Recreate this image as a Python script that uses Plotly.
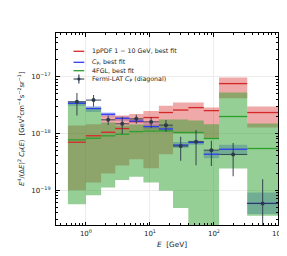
import numpy as np
import plotly.graph_objects as go

# ---------------- data (energies in GeV, values in units of 1e-18) -------------
edges = [0.524, 1.0, 1.73, 2.87, 4.75, 7.91, 13.8, 22.9, 39.8, 69.2, 120.0, 331.0, 1000.0]
UNIT = 1e-18

red_mid = [0.70, 0.91, 1.05, 1.22, 1.62, 1.91, 2.34, 2.59, 2.86, 2.53, 7.59, 2.34]
red_hi = [1.38, 1.45, 2.07, 2.07, 2.20, 2.50, 3.07, 3.51, 3.51, 2.86, 9.68, 2.98]
red_lo = [0.0996, 0.136, 0.196, 0.272, 0.351, 0.243, 0.430, 0.995, 0.995, 0.813, 4.18, 1.27]

blue_mid = [3.41, 2.75, 2.18, 1.85, 1.65, 1.32, 1.20, 0.624, 0.691, 0.430, 0.526, 0.0581]
blue_hi = [3.76, 3.02, 2.34, 1.99, 1.78, 1.50, 1.32, 0.705, 0.74, 0.493, 0.630, 0.0908]
blue_lo = [3.07, 2.38, 1.99, 1.67, 1.56, 1.17, 1.08, 0.553, 0.630, 0.365, 0.430, 0.0376]

green_mid = [0.771, 0.823, 0.908, 0.968, 1.08, 1.10, 1.11, 1.04, 1.04, 0.813, 1.99, 0.542]
green_hi = [3.58, 2.86, 1.56, 1.38, 1.44, 1.38, 1.76, 1.76, 1.69, 1.45, 5.26, 1.50]
green_lo = [0.0564, 0.0813, 0.111, 0.151, 0.172, 0.136, 0.0973, 0.048, 0.001, 0.001, 0.240, 0.0352]

cp_val = [3.62, 3.88, 1.74, 1.48, 1.81, 1.60, 1.40, 0.60, 0.714, 0.506, 0.425, 0.058]
cp_err = [1.55, 0.90, 0.33, 0.50, 0.32, 0.35, 0.33, 0.27, 0.44, 0.24, 0.25, 0.098]

legend_labels = ["1pPDF 1 − 10 GeV, best fit", "<i>C</i><sub>P</sub>, best fit",
                 "4FGL, best fit", "Fermi-LAT <i>C</i><sub>P</sub> (diagonal)"]

x_tick_vals = [1, 10, 100, 1000]
x_tick_text = ["10<sup>0</sup>", "10<sup>1</sup>", "10<sup>2</sup>", "10<sup>3</sup>"]
y_tick_vals = [1e-19, 1e-18, 1e-17]
y_tick_text = ["10<sup>−19</sup>", "10<sup>−18</sup>", "10<sup>−17</sup>"]

# ---------------- styling ----------------
RED = "#d62728"
BLUE = "#2f3cf0"
GREEN = "#2ca02c"
PT = "#2b3a4a"
FONT = "DejaVu Sans"

W, H = 287, 256
ML, MR, MT, MB = 48, 11, 25, 39
PW, PH = W - ML - MR, H - MT - MB

e = np.array(edges)
lo_e, hi_e = e[:-1], e[1:]
centers = np.sqrt(lo_e * hi_e)


def band(lo, hi, color):
    xs = np.repeat(e, 2)[1:-1]
    yh = np.repeat(np.array(hi) * UNIT, 2)
    yl = np.repeat(np.array(lo) * UNIT, 2)
    return go.Scatter(x=np.concatenate([xs, xs[::-1]]), y=np.concatenate([yh, yl[::-1]]),
                      fill="toself", fillcolor=color, mode="lines", line=dict(width=0),
                      hoverinfo="skip", showlegend=False)


def hlines(vals, color, name):
    xs, ys = [], []
    for a, b, v in zip(lo_e, hi_e, vals):
        xs += [a, b, None]
        ys += [v * UNIT, v * UNIT, None]
    return go.Scatter(x=xs, y=ys, mode="lines", line=dict(color=color, width=1.3),
                      name=name, showlegend=False)


fig = go.Figure()
fig.add_trace(band(blue_lo, blue_hi, "rgba(47,60,240,0.35)"))
fig.add_trace(band(red_lo, red_hi, "rgba(214,39,40,0.40)"))
fig.add_trace(band(green_lo, green_hi, "rgba(44,160,44,0.50)"))
fig.add_trace(hlines(red_mid, RED, legend_labels[0]))
fig.add_trace(hlines(blue_mid, BLUE, legend_labels[1]))
fig.add_trace(hlines(green_mid, GREEN, legend_labels[2]))
fig.add_trace(go.Scatter(
    x=centers, y=np.array(cp_val) * UNIT, mode="markers", name=legend_labels[3],
    marker=dict(color=PT, size=4, symbol="circle"),
    error_x=dict(type="data", array=hi_e - centers, arrayminus=centers - lo_e,
                 color="rgba(43,58,74,0.85)", thickness=1.1, width=0),
    error_y=dict(type="data", array=np.array(cp_err) * UNIT,
                 color="rgba(43,58,74,0.85)", thickness=1.1, width=0),
    showlegend=False))

x_minor = [k * 10.0 ** d for d in range(-1, 3) for k in range(2, 10)]
y_minor = [k * 10.0 ** d for d in range(-20, -16) for k in range(2, 10)]

axis_common = dict(showline=True, linecolor="black", linewidth=1, mirror="ticks",
                   ticks="inside", ticklen=3.5, tickwidth=0.8, tickcolor="black",
                   showgrid=True, gridcolor="#ececec", gridwidth=0.6, zeroline=False,
                   tickfont=dict(family=FONT, size=7, color="#222"))

fig.update_xaxes(type="log", range=[-0.467, 3.0], tickvals=x_tick_vals, ticktext=x_tick_text,
                 minor=dict(tickvals=x_minor, ticks="inside", ticklen=2, tickwidth=0.6,
                            tickcolor="black", showgrid=False),
                 ticklabelstandoff=2, **axis_common)
fig.update_yaxes(type="log", range=[-19.617, -16.226], tickvals=y_tick_vals, ticktext=y_tick_text,
                 minor=dict(tickvals=y_minor, ticks="inside", ticklen=2, tickwidth=0.6,
                            tickcolor="black", showgrid=False),
                 ticklabelstandoff=3, **axis_common)


def px2paper(px, py):
    return (px - ML) / PW, (H - MB - py) / PH


shapes = []
annotations = []
leg_y = [43.3, 54.3, 62.7, 71.0]
leg_cols = [RED, BLUE, GREEN]
for i, yy in enumerate(leg_y):
    x0, y0 = px2paper(66, yy)
    x1, _ = px2paper(77, yy)
    if i < 3:
        shapes.append(dict(type="line", xref="paper", yref="paper", x0=x0, x1=x1, y0=y0, y1=y0,
                           line=dict(color=leg_cols[i], width=1.3)))
    else:
        xc, yc = px2paper(71.5, yy)
        _, ya = px2paper(71.5, yy - 4.5)
        _, yb = px2paper(71.5, yy + 4.5)
        shapes.append(dict(type="line", xref="paper", yref="paper", x0=x0, x1=x1, y0=y0, y1=y0,
                           line=dict(color=PT, width=1.1)))
        shapes.append(dict(type="line", xref="paper", yref="paper", x0=xc, x1=xc, y0=ya, y1=yb,
                           line=dict(color=PT, width=1.1)))
        dx, dy = 1.6 / PW, 1.6 / PH
        shapes.append(dict(type="circle", xref="paper", yref="paper", x0=xc - dx, x1=xc + dx,
                           y0=yc - dy, y1=yc + dy, fillcolor=PT, line=dict(width=0)))
    tx, ty = px2paper(82.7, yy)
    annotations.append(dict(text=legend_labels[i], x=tx, y=ty, xref="paper", yref="paper",
                            xanchor="left", yanchor="middle", showarrow=False,
                            font=dict(family=FONT, size=6.3, color="#222")))

# axis titles
ax_, ay_ = px2paper(167.5, 236)
annotations.append(dict(text="<i>E</i>  [GeV]", x=ax_, y=ay_, xref="paper", yref="paper",
                        xanchor="center", yanchor="middle", showarrow=False,
                        font=dict(family=FONT, size=7.3, color="#222")))
bx_, by_ = px2paper(12, 120)
annotations.append(dict(
    text="<i>E</i><sup>4</sup>/(Δ<i>E</i>)<sup>2</sup> <i>C</i><sub>P</sub>(<i>E</i>)  "
         "[GeV<sup>2</sup>cm<sup>−4</sup>s<sup>−2</sup>sr<sup>−1</sup>]",
    x=bx_, y=by_, xref="paper", yref="paper", xanchor="center", yanchor="middle",
    textangle=-90, showarrow=False, font=dict(family=FONT, size=6.8, color="#222")))

fig.update_layout(width=W, height=H, margin=dict(l=ML, r=MR, t=MT, b=MB),
                  paper_bgcolor="white", plot_bgcolor="white", showlegend=False,
                  shapes=shapes, annotations=annotations, font=dict(family=FONT))

fig.write_html("out.html")
